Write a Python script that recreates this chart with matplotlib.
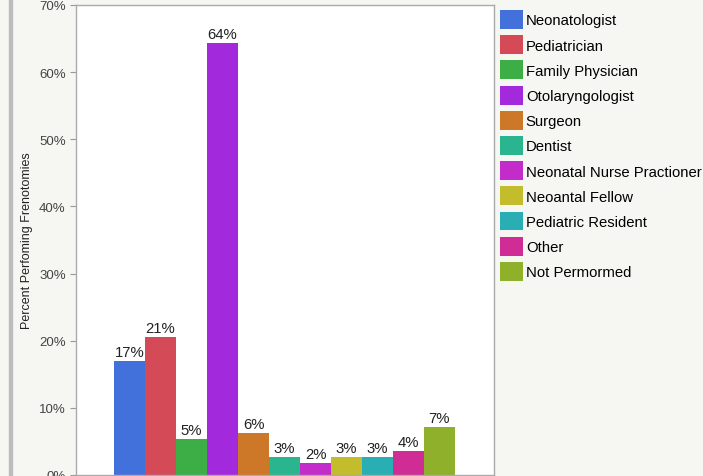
import matplotlib
matplotlib.use("Agg")
import matplotlib.pyplot as plt
from matplotlib.patches import Patch, Rectangle
from matplotlib.ticker import FuncFormatter

plt.rcParams['font.family'] = ['Liberation Sans', 'DejaVu Sans']

categories = ["Neonatologist", "Pediatrician", "Family Physician", "Otolaryngologist",
              "Surgeon", "Dentist", "Neonatal Nurse Practioner", "Neoantal Fellow",
              "Pediatric Resident", "Other", "Not Permormed"]
values = [16.96, 20.54, 5.36, 64.29, 6.25, 2.68, 1.79, 2.68, 2.68, 3.57, 7.14]
colors = ["#4371dc", "#d44a57", "#3dae46", "#a22adc", "#cd7729", "#2bb58e",
          "#c32bcb", "#c3bc2c", "#28aeb3", "#cf2c96", "#8fb02b"]
y_ticks = [0, 10, 20, 30, 40, 50, 60, 70]
y_label = "Percent Perfoming Frenotomies"

W, H = 703, 477
fig = plt.figure(figsize=(W / 100, H / 100), dpi=100)
fig.patch.set_facecolor("#f6f6f2")

# left gray strip
fig.patches.append(Rectangle((9 / W, 0), 3 / W, 1, transform=fig.transFigure,
                             color="#bdbdbd", zorder=0))

ax = fig.add_axes([76 / W, 1 / H, (494 - 76) / W, (476 - 6) / H])
ax.set_facecolor("white")

x = list(range(len(values)))
bars = ax.bar(x, values, width=1.0, color=colors, linewidth=0)
for xi, v in zip(x, values):
    ax.text(xi, v + 0.35, f"{v:.0f}%", ha="center", va="bottom", fontsize=10.7, color="#222222")

ax.set_xlim(-1.73, 11.76)
ax.set_ylim(0, 70)
ax.set_yticks(y_ticks)
ax.yaxis.set_major_formatter(FuncFormatter(lambda v, p: f"{v:.0f}%"))
ax.tick_params(axis="y", labelsize=9.5, colors="#999999", labelcolor="#444444", length=4, width=0.8)
ax.set_xticks([])
for s in ax.spines.values():
    s.set_color("#aaaaaa")
    s.set_linewidth(1)
ax.set_ylabel(y_label, fontsize=9, color="#222222", labelpad=4)

handles = [Patch(facecolor=c, edgecolor="none") for c in colors]
fig.legend(handles, categories, loc="upper left", bbox_to_anchor=(500 / W, 1 - 11 / H),
           frameon=False, fontsize=10.7, handlelength=1.54, handleheight=1.585,
           labelspacing=0.42, handletextpad=0.2, borderpad=0, borderaxespad=0)

fig.savefig("out.png", dpi=100, facecolor=fig.get_facecolor())
